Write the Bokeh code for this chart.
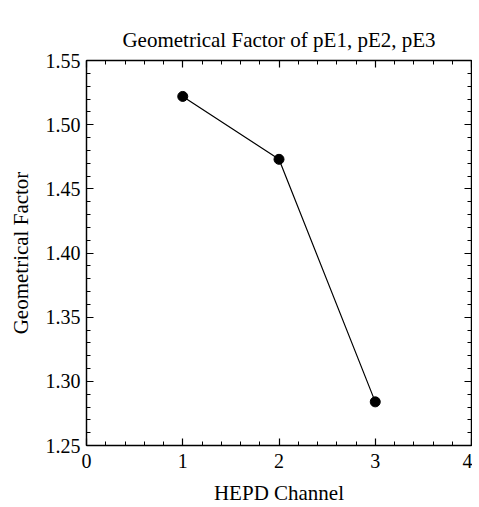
from bokeh.plotting import figure
from bokeh.models import LinearAxis, SingleIntervalTicker, NumeralTickFormatter, CustomJSTickFormatter
from bokeh.embed import file_html
from bokeh.resources import INLINE

# Data
channels = [1, 2, 3]
geo_factor = [1.522, 1.473, 1.284]
title_text = "Geometrical Factor of pE1, pE2, pE3"
x_label = "HEPD Channel"
y_label = "Geometrical Factor"

FONT = "Liberation Serif"

p = figure(frame_width=385, frame_height=385,
           x_range=(0, 4), y_range=(1.25, 1.55),
           output_backend="svg", toolbar_location=None,
           x_axis_location=None, y_axis_location=None,
           min_border_left=86, min_border_right=1,
           min_border_top=60, min_border_bottom=52,
           title=title_text)

p.title.text_font = FONT
p.title.text_font_size = "21px"
p.title.text_font_style = "normal"
p.title.text_color = "black"
p.title.align = "center"
p.title.vertical_align = "top"
p.title.standoff = 14

p.grid.visible = False
p.outline_line_color = "black"
p.outline_line_width = 1.2


def style_axis(ax, show_labels):
    ax.axis_line_color = "black"
    ax.axis_line_width = 1.3
    ax.major_tick_in = 7
    ax.major_tick_out = 0
    ax.minor_tick_in = 4
    ax.minor_tick_out = 0
    ax.major_tick_line_color = "black"
    ax.minor_tick_line_color = "black"
    ax.major_tick_line_width = 1.2
    ax.minor_tick_line_width = 1.0
    ax.major_label_text_font = FONT
    ax.axis_label_text_font = FONT
    ax.axis_label_text_font_style = "normal"
    ax.major_label_text_color = "black"
    ax.axis_label_text_color = "black"
    if show_labels:
        ax.major_label_text_font_size = "20px"
        ax.axis_label_text_font_size = "21px"
    else:
        ax.formatter = CustomJSTickFormatter(code="return '';")
        ax.major_label_standoff = 0


xt = lambda: SingleIntervalTicker(interval=1, num_minor_ticks=5)
yt = lambda: SingleIntervalTicker(interval=0.05, num_minor_ticks=5)

xb = LinearAxis(ticker=xt(), axis_label=x_label)
style_axis(xb, True)
xb.major_label_standoff = 8
xb.axis_label_standoff = 10
p.add_layout(xb, "below")

xa = LinearAxis(ticker=xt())
style_axis(xa, False)
p.add_layout(xa, "above")

yl = LinearAxis(ticker=yt(), axis_label=y_label,
                formatter=NumeralTickFormatter(format="0.00"))
style_axis(yl, True)
yl.major_label_standoff = 6
yl.axis_label_standoff = 10
p.add_layout(yl, "left")

yr = LinearAxis(ticker=yt())
style_axis(yr, False)
p.add_layout(yr, "right")

p.line(channels, geo_factor, line_color="black", line_width=1.2)
p.scatter(channels, geo_factor, size=10, fill_color="black", line_color="black")

open("out.html", "w").write(file_html(p, INLINE))
